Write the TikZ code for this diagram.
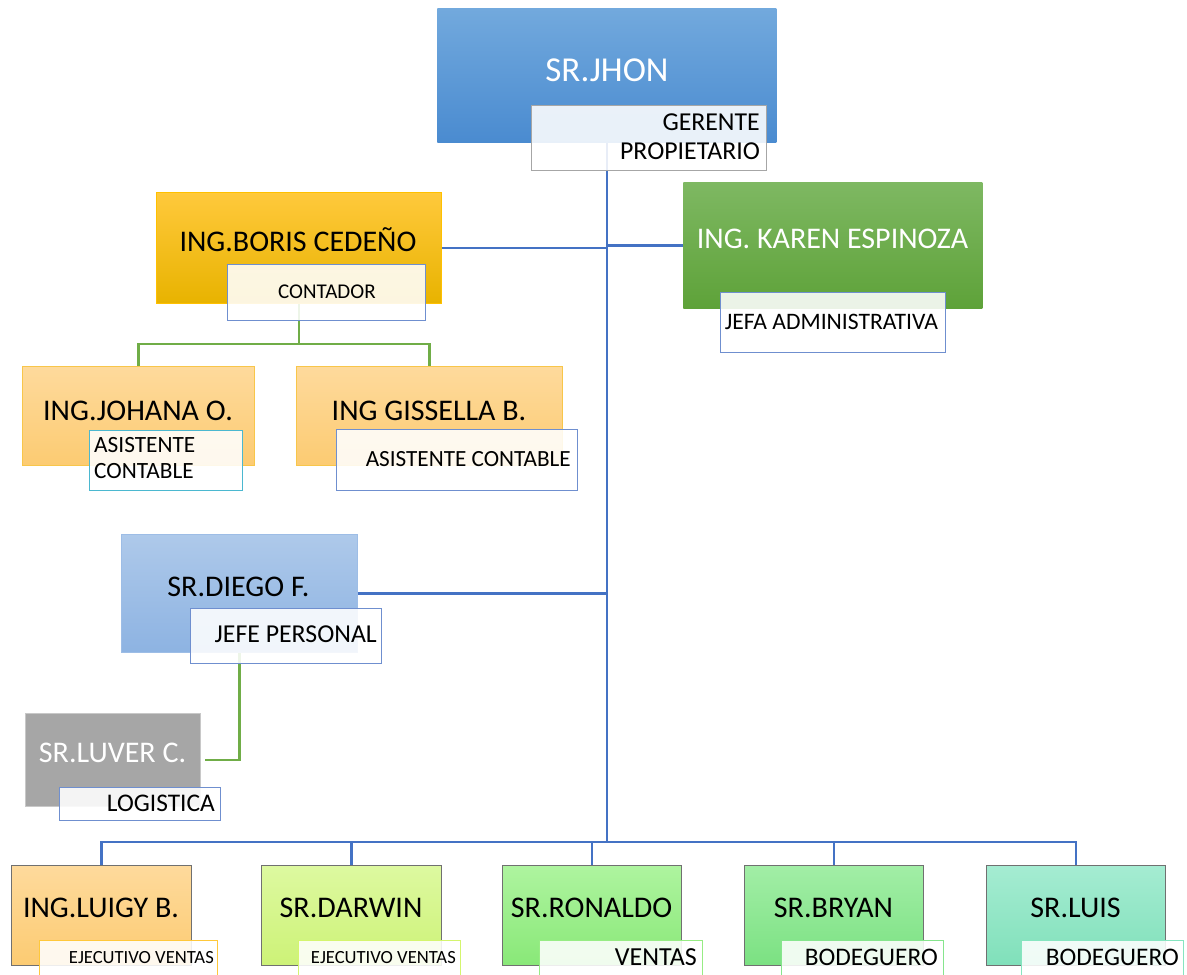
\documentclass[tikz,border=0pt]{standalone}
\usepackage{fontspec}
\setmainfont{Carlito}
\usetikzlibrary{backgrounds}
\definecolor{conn}{HTML}{4472C4}
\definecolor{gconn}{HTML}{70AD47}
\definecolor{subblue}{HTML}{6F8FCF}
\definecolor{jhonA}{HTML}{72A9DD}\definecolor{jhonB}{HTML}{4A8BD0}
\definecolor{borisA}{HTML}{FFC93C}\definecolor{borisB}{HTML}{E8B300}
\definecolor{karenA}{HTML}{7EB862}\definecolor{karenB}{HTML}{5EA239}
\definecolor{orA}{HTML}{FEDA9C}\definecolor{orB}{HTML}{FCCB72}
\definecolor{diegoA}{HTML}{AEC9EA}\definecolor{diegoB}{HTML}{8DB3E2}
\definecolor{darA}{HTML}{DDF9A0}\definecolor{darB}{HTML}{CDF277}
\definecolor{ronA}{HTML}{AEF49F}\definecolor{ronB}{HTML}{89E878}
\definecolor{bryA}{HTML}{A2EEA6}\definecolor{bryB}{HTML}{7BE182}
\definecolor{luiA}{HTML}{A5ECD2}\definecolor{luiB}{HTML}{80E0BA}
\definecolor{grayfill}{HTML}{A6A6A6}
\definecolor{grayedge}{HTML}{C8C8C8}
\definecolor{subgray}{HTML}{A6A6A6}
\definecolor{gold}{HTML}{FFC000}
\definecolor{goldedge}{HTML}{F8C64A}
\definecolor{cyanedge}{HTML}{4BB8D0}
\definecolor{diegoedge}{HTML}{9DBDE6}
\definecolor{botedge}{HTML}{707070}
\definecolor{luigyedge}{HTML}{FFC83A}
\definecolor{daredge}{HTML}{D4F56E}
\definecolor{ronedge}{HTML}{97EC84}
\definecolor{bryedge}{HTML}{86E58D}
\definecolor{luiedge}{HTML}{86E5C0}
\begin{document}
\begin{tikzpicture}[x=1pt,y=-1pt,
  box/.style={rectangle, inner sep=0pt, anchor=north west, line width=0.8pt},
  sub/.style={rectangle, inner sep=0pt, anchor=north west, fill=white, fill opacity=0.88, line width=1.1pt},
  nm/.style={inner sep=0pt, text height=19.3pt, text depth=0pt, font=\fontsize{30}{36}\selectfont},
  nmbig/.style={inner sep=0pt, text height=22.5pt, text depth=0pt, font=\fontsize{35}{42}\selectfont},
  sb/.style={inner sep=0pt, text height={0.644*#1 pt}, text depth=0pt, font=\fontsize{#1}{#1}\selectfont},
  bline/.style={draw=conn, line width=2.4pt},
  gline/.style={draw=gconn, line width=2.4pt}
]
\useasboundingbox (0,0) rectangle (1187,975);
\clip (0,0) rectangle (1187,975);

% ---- top: SR.JHON
\node[box, minimum width=339pt, minimum height=134pt, top color=jhonA, bottom color=jhonB] (jhon) at (437,8) {};
\node[nmbig, text=white] (jhonT) at (607,70) {SR.JHON};
\node[sub, draw=subgray, minimum width=235pt, minimum height=65pt] (jhonS) at (531,105) {};
\node[sb=25.8, anchor=east] (jhonS1) at (760,122.5) {GERENTE};
\node[sb=25.8, anchor=east] (jhonS2) at (760,151.5) {PROPIETARIO};

% ---- Boris
\node[box, draw=gold, minimum width=285pt, minimum height=111pt, top color=borisA, bottom color=borisB] (boris) at (156,192) {};
\node[nm] (borisT) at (298,241.5) {ING.BORIS CEDEÑO};
\node[sub, draw=subblue, minimum width=198pt, minimum height=56pt] (borisS) at (227,264) {};
\node[sb=21, anchor=west] (borisS1) at (278,292) {CONTADOR};

% ---- Karen
\node[box, minimum width=299pt, minimum height=126pt, top color=karenA, bottom color=karenB] (karen) at (683,182) {};
\node[nm, text=white] (karenT) at (832.5,238.5) {ING. KAREN ESPINOZA};
\node[sub, draw=subblue, minimum width=225pt, minimum height=60pt] (karenS) at (720,292) {};
\node[sb=23.6] (karenS1) at (831.5,322) {JEFA ADMINISTRATIVA};

% ---- Johana
\node[box, draw=goldedge, minimum width=232pt, minimum height=99pt, top color=orA, bottom color=orB] (johana) at (22,366) {};
\node[nm] (johanaT) at (138,411) {ING.JOHANA O.};
\node[sub, draw=cyanedge, minimum width=153pt, minimum height=60pt] (johanaS) at (89,430) {};
\node[sb=23.3, anchor=west] (johanaS1) at (94,445) {ASISTENTE};
\node[sb=23.3, anchor=west] (johanaS2) at (94,471) {CONTABLE};

% ---- Gissella
\node[box, draw=goldedge, minimum width=266pt, minimum height=99pt, top color=orA, bottom color=orB] (gissella) at (296,366) {};
\node[nm] (gissellaT) at (429,411) {ING GISSELLA B.};
\node[sub, draw=subblue, minimum width=241pt, minimum height=61pt] (gissellaS) at (336,429) {};
\node[sb=23.2, anchor=east] (gissellaS1) at (571,459) {ASISTENTE CONTABLE};

% ---- Diego
\node[box, draw=diegoedge, minimum width=236pt, minimum height=118pt, top color=diegoA, bottom color=diegoB] (diego) at (121,534) {};
\node[nm] (diegoT) at (238.5,587) {SR.DIEGO F.};
\node[sub, draw=subblue, minimum width=191pt, minimum height=55pt] (diegoS) at (190,608) {};
\node[sb=25.8, anchor=east] (diegoS1) at (377,634) {JEFE PERSONAL};

% ---- Luver
\node[box, draw=grayedge, fill=grayfill, minimum width=175pt, minimum height=93pt] (luver) at (25,713) {};
\node[nm, text=white] (luverT) at (112.5,753) {SR.LUVER C.};
\node[sub, draw=subblue, minimum width=161pt, minimum height=33pt] (luverS) at (59,787) {};
\node[sb=25.4, anchor=east] (luverS1) at (215,803) {LOGISTICA};

% ---- bottom row
\node[box, draw=botedge, minimum width=180pt, minimum height=100pt, top color=orA, bottom color=orB] (luigy) at (11,865) {};
\node[nm] (luigyT) at (101,908) {ING.LUIGY B.};
\node[sub, draw=luigyedge, minimum width=178pt, minimum height=45pt] (luigyS) at (39,940) {};
\node[sb=18.6, anchor=east] (luigyS1) at (214,957) {EJECUTIVO VENTAS};

\node[box, draw=botedge, minimum width=180pt, minimum height=100pt, top color=darA, bottom color=darB] (darwin) at (261,865) {};
\node[nm] (darwinT) at (351,908) {SR.DARWIN};
\node[sub, draw=daredge, minimum width=162pt, minimum height=45pt] (darwinS) at (298,940) {};
\node[sb=18.6, anchor=east] (darwinS1) at (456,957) {EJECUTIVO VENTAS};

\node[box, draw=botedge, minimum width=179pt, minimum height=100pt, top color=ronA, bottom color=ronB] (ronaldo) at (502,865) {};
\node[nm] (ronaldoT) at (591.5,908) {SR.RONALDO};
\node[sub, draw=ronedge, minimum width=163pt, minimum height=45pt] (ronaldoS) at (539,940) {};
\node[sb=26, anchor=east] (ronaldoS1) at (697,957) {VENTAS};

\node[box, draw=botedge, minimum width=179pt, minimum height=100pt, top color=bryA, bottom color=bryB] (bryan) at (744,865) {};
\node[nm] (bryanT) at (833.5,908) {SR.BRYAN};
\node[sub, draw=bryedge, minimum width=162pt, minimum height=45pt] (bryanS) at (781,940) {};
\node[sb=25.3, anchor=east] (bryanS1) at (938,957) {BODEGUERO};

\node[box, draw=botedge, minimum width=179pt, minimum height=100pt, top color=luiA, bottom color=luiB] (luis) at (986,865) {};
\node[nm] (luisT) at (1075.5,908) {SR.LUIS};
\node[sub, draw=luiedge, minimum width=162pt, minimum height=45pt] (luisS) at (1021,940) {};
\node[sb=25.3, anchor=east] (luisS1) at (1179,957) {BODEGUERO};

% ---- connectors (behind)
\coordinate (bus) at (jhon.south |- 0,842);
\coordinate (gbr) at (boris.south |- 0,344);
\begin{pgfonlayer}{background}
\draw[bline] (jhon.south) -- (bus);
\draw[bline] (boris.east) -- (boris.east -| jhon.south);
\draw[bline] (karen.west) -- (karen.west -| jhon.south);
\draw[bline] (diego.east) -- (diego.east -| jhon.south);
\draw[bline] (luigy.north) |- (bus);
\draw[bline] (darwin.north) |- (bus);
\draw[bline] (ronaldo.north) |- (bus);
\draw[bline] (bryan.north) |- (bus);
\draw[bline] (luis.north) |- (bus);
\draw[gline] (boris.south) -- (gbr);
\draw[gline] (johana.north) |- (gbr);
\draw[gline] (gissella.north) |- (gbr);
\draw[gline] (diego.south) |- ([xshift=4pt]luver.east);
\end{pgfonlayer}
\end{tikzpicture}
\end{document}
